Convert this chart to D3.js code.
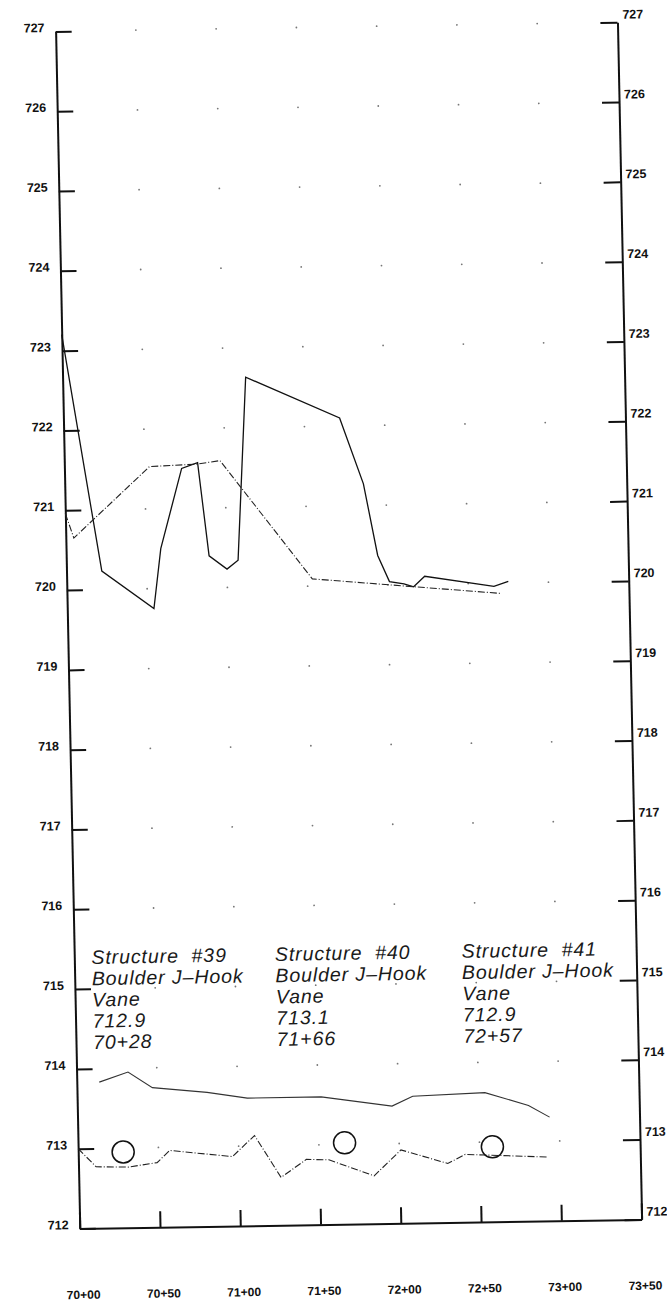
<!DOCTYPE html>
<html>
<head>
<meta charset="utf-8">
<script src="https://cdnjs.cloudflare.com/ajax/libs/d3/7.8.5/d3.min.js"></script>
<style>
    body { margin: 0; background: #fff; }
    .axis text { font-family: "Liberation Sans", Arial, sans-serif; font-weight: bold; font-size: 12.5px; fill: #111; }
    .axis path, .axis line { stroke: #111; stroke-width: 2; }
    .note { font-family: "Liberation Sans", Arial, sans-serif; font-style: italic; font-size: 19.5px; letter-spacing: 0.9px; fill: #1a1a1a; }
</style>
</head>
<body>
<div id="profile-container"></div>
<script>

// station ticks (feet) and their labels
var stationTicks = [7000, 7050, 7100, 7150, 7200, 7250, 7300, 7350];
var stationLabels = ["70+00", "70+50", "71+00", "71+50", "72+00", "72+50", "73+00", "73+50"];
var elevTicks = [712, 713, 714, 715, 716, 717, 718, 719, 720, 721, 722, 723, 724, 725, 726, 727];

// [station, elevation]
var leftBank = [[7000, 723.2], [7022, 720.23], [7054, 719.75], [7059, 720.5], [7073, 721.5],
    [7083, 721.57], [7089, 720.4], [7100, 720.23], [7107, 720.34], [7114, 722.63], [7172, 722.1],
    [7186, 721.27], [7194, 720.37], [7201, 720.04], [7210, 720.01], [7216, 719.97], [7223, 720.1],
    [7266, 719.96], [7275, 720.02]];
var rightBank = [[7000, 720.96], [7005, 720.65], [7053, 721.53], [7082, 721.55], [7097, 721.59],
    [7153, 720.09], [7270, 719.87]];
var waterSurface = [[7014, 713.83], [7032, 713.95], [7047, 713.75], [7081, 713.68], [7106, 713.6],
    [7152, 713.6], [7196, 713.47], [7209, 713.59], [7254, 713.62], [7281, 713.45], [7294, 713.3]];
var thalweg = [[7000, 713.0], [7011, 712.77], [7031, 712.76], [7049, 712.81], [7057, 712.96],
    [7096, 712.87], [7110, 713.13], [7126, 712.6], [7142, 712.82], [7156, 712.81], [7184, 712.6],
    [7201, 712.92], [7230, 712.74], [7241, 712.85], [7262, 712.83], [7292, 712.8]];

// structures
var structNames = ["Structure  #39", "Structure  #40", "Structure  #41"];
var structTypes = ["Boulder J\u2013Hook", "Boulder J\u2013Hook", "Boulder J\u2013Hook"];
var structTypes2 = ["Vane", "Vane", "Vane"];
var structElevText = ["712.9", "713.1", "712.9"];
var structStaText = ["70+28", "71+66", "72+57"];
var structStations = [7028, 7166, 7258];
var structElevs = [712.95, 713.02, 712.94];

var width = 667, height = 1304;
var plotW = 560, plotH = 1200;

var svg = d3.select("#profile-container").append("svg")
    .attr("width", width)
    .attr("height", height);

// the sheet was scanned slightly crooked
var g = svg.append("g")
    .attr("transform", "matrix(1.0033,-0.01634,0.020125,0.997625,55.6,31.4)");

var x = d3.scaleLinear().domain([7000, 7350]).range([0, plotW]);
var y = d3.scaleLinear().domain([712, 727]).range([plotH, 0]);

// dot grid
var dots = [];
stationTicks.slice(1, 7).forEach(function (s) {
    elevTicks.slice(1).forEach(function (e) { dots.push([s, e]); });
});
g.append("g")
    .selectAll("circle")
    .data(dots)
    .enter().append("circle")
    .attr("cx", function (d) { return x(d[0]); })
    .attr("cy", function (d) { return y(d[1]); })
    .attr("r", 0.9)
    .attr("fill", "#777");

// axes
g.append("g")
    .attr("class", "axis")
    .call(d3.axisLeft(y).tickValues(elevTicks).tickSize(-16).tickSizeOuter(0).tickPadding(11))
    .selectAll("text").attr("y", -4);

g.append("g")
    .attr("class", "axis")
    .attr("transform", "translate(" + plotW + ",0)")
    .call(d3.axisRight(y).tickValues(elevTicks).tickSize(-17).tickSizeOuter(0).tickPadding(5))
    .selectAll("text").attr("y", -8);

var xAxis = g.append("g")
    .attr("class", "axis")
    .attr("transform", "translate(0," + plotH + ")")
    .call(d3.axisBottom(x)
        .tickValues(stationTicks)
        .tickFormat(function (d, i) { return stationLabels[i]; })
        .tickSize(-16).tickSizeOuter(0).tickPadding(62));
xAxis.selectAll("text").attr("x", 2).style("font-size", "12px");

// profile lines
var line = d3.line()
    .x(function (d) { return x(d[0]); })
    .y(function (d) { return y(d[1]); });

g.append("path").datum(leftBank)
    .attr("d", line).attr("fill", "none").attr("stroke", "#111").attr("stroke-width", 1.3);
g.append("path").datum(rightBank)
    .attr("d", line).attr("fill", "none").attr("stroke", "#222").attr("stroke-width", 1.1)
    .attr("stroke-dasharray", "7,2,1,2");
g.append("path").datum(waterSurface)
    .attr("d", line).attr("fill", "none").attr("stroke", "#333").attr("stroke-width", 1.1);
g.append("path").datum(thalweg)
    .attr("d", line).attr("fill", "none").attr("stroke", "#222").attr("stroke-width", 1.1)
    .attr("stroke-dasharray", "7,2,1,2");

// structure markers
g.append("g")
    .selectAll("circle")
    .data(structStations)
    .enter().append("circle")
    .attr("cx", function (d) { return x(d); })
    .attr("cy", function (d, i) { return y(structElevs[i]); })
    .attr("r", 11)
    .attr("fill", "none")
    .attr("stroke", "#111")
    .attr("stroke-width", 1.5);

// structure notes
var noteX = [17, 200, 386];
var note = g.append("g")
    .selectAll("text")
    .data(structNames)
    .enter().append("text")
    .attr("class", "note")
    .attr("transform", function (d, i) { return "translate(" + noteX[i] + ",935)"; });

note.each(function (d, i) {
    var rows = [structNames[i], structTypes[i], structTypes2[i], structElevText[i], structStaText[i]];
    d3.select(this).selectAll("tspan")
        .data(rows)
        .enter().append("tspan")
        .attr("x", 0)
        .attr("y", function (r, j) { return j * 21.3; })
        .style("white-space", "pre")
        .text(function (r) { return r; });
});

</script>
</body>
</html>
